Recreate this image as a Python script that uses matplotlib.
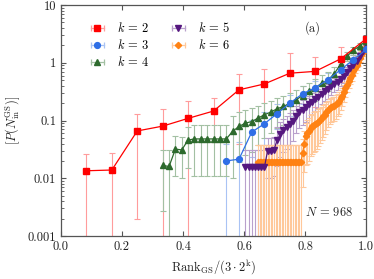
import matplotlib
matplotlib.use("Agg")
import matplotlib.pyplot as plt
from matplotlib.lines import Line2D
from matplotlib.legend_handler import HandlerLine2D

plt.rcParams['font.family'] = 'serif'
plt.rcParams['font.serif'] = ['cmr10', 'DejaVu Serif']
plt.rcParams['mathtext.fontset'] = 'cm'
plt.rcParams['axes.unicode_minus'] = False

# data: ranks start index, values and errors per k (x = rank / (3*2^k))
k_list = [2, 3, 4, 5, 6]
start_rank = {2: 1, 3: 13, 4: 16, 5: 58, 6: 124}

vals_k2 = [0.0135, 0.0139, 0.066, 0.080, 0.109, 0.146, 0.34, 0.43, 0.66, 0.71, 1.17, 2.6]
errs_k2 = [0.0125, 0.0131, 0.064, 0.08, 0.111, 0.104, 0.30, 0.35, 0.81, 0.54, 0.70, 0.35]

vals_k3 = [0.020, 0.0214, 0.063, 0.088, 0.132, 0.20, 0.29, 0.37, 0.51, 0.76, 1.13, 1.70]
errs_k3 = [0.020, 0.0214, 0.04, 0.05, 0.06, 0.08, 0.1, 0.12, 0.15, 0.2, 0.25, 0.3]

vals_k4 = [0.0167, 0.016, 0.032, 0.031, 0.046, 0.048, 0.048, 0.048, 0.048, 0.048, 0.048,
           0.065, 0.079, 0.09, 0.096, 0.11, 0.126, 0.14, 0.16, 0.175, 0.2, 0.23, 0.27,
           0.32, 0.365, 0.445, 0.5, 0.65, 0.95, 1.3, 1.65, 1.95, 2.4]
errs_k4 = [0.014, 0.0155, 0.021, 0.021, 0.031, 0.037, 0.037, 0.037, 0.037, 0.037, 0.037,
           0.055, 0.06, 0.065, 0.068, 0.072, 0.076, 0.08, 0.085, 0.09, 0.1, 0.11, 0.12,
           0.13, 0.15, 0.16, 0.18, 0.2, 0.22, 0.24, 0.26, 0.28, 0.3]

vals_k5 = [0.0155, 0.0155, 0.0155, 0.0155, 0.0155, 0.0155, 0.0155,
           0.030, 0.030, 0.031,
           0.046, 0.058, 0.068, 0.077, 0.087, 0.10, 0.12, 0.14, 0.155, 0.17, 0.19, 0.21,
           0.235, 0.26, 0.29, 0.32, 0.35, 0.39, 0.43, 0.47, 0.53, 0.6, 0.68, 0.8, 0.93,
           1.07, 1.3, 1.6, 2.1]
errs_k5 = [0.0155, 0.0155, 0.0155, 0.0155, 0.0155, 0.0155, 0.0155,
           0.02, 0.02, 0.02,
           0.03, 0.035, 0.04, 0.045, 0.05, 0.055, 0.06, 0.065, 0.07, 0.075, 0.08, 0.085,
           0.09, 0.095, 0.1, 0.105, 0.11, 0.115, 0.12, 0.13, 0.14, 0.15, 0.16, 0.18, 0.2,
           0.22, 0.25, 0.28, 0.3]

vals_k6 = [0.019] * 28 + [
    0.027, 0.04, 0.053, 0.06, 0.066, 0.074, 0.079, 0.083, 0.087, 0.09, 0.096, 0.103,
    0.11, 0.118, 0.126, 0.138, 0.15, 0.162, 0.17, 0.175, 0.18, 0.19, 0.205, 0.22,
    0.245, 0.27, 0.31, 0.36, 0.42, 0.48, 0.55, 0.62, 0.72, 0.82, 0.92, 1.04, 1.2,
    1.37, 1.55, 1.72, 1.9]
errs_k6 = [0.019] * 28 + [
    0.02, 0.027, 0.036, 0.042, 0.046, 0.05, 0.053, 0.055, 0.057, 0.058, 0.06, 0.062,
    0.064, 0.066, 0.068, 0.07, 0.072, 0.074, 0.076, 0.078, 0.08, 0.082, 0.085, 0.088,
    0.09, 0.095, 0.1, 0.105, 0.11, 0.115, 0.12, 0.13, 0.14, 0.15, 0.16, 0.17, 0.18,
    0.2, 0.22, 0.24, 0.26]

vals = {2: vals_k2, 3: vals_k3, 4: vals_k4, 5: vals_k5, 6: vals_k6}
errs = {2: errs_k2, 3: errs_k3, 4: errs_k4, 5: errs_k5, 6: errs_k6}

# estilo de cada serie
colores = {2: '#ff0000', 3: '#2f6fe6', 4: '#2d6a2d', 5: '#55177f', 6: '#ff8213'}
claros = {2: '#ff9c9c', 3: '#a9c3f4', 4: '#a3c0a3', 5: '#b9a0cc', 6: '#ffc89a'}
marcas = {2: 's', 3: 'o', 4: '^', 5: 'v', 6: 'D'}
tamanos = {2: 5.0, 3: 4.2, 4: 4.2, 5: 4.2, 6: 3.2}

fig = plt.figure(figsize=(3.74, 2.79), dpi=100)
ax = fig.add_axes([0.163, 0.154, 0.816, 0.828])

for k in k_list:
    n = 3 * 2 ** k
    x = [(start_rank[k] + i) / n for i in range(len(vals[k]))]
    ax.errorbar(x, vals[k], yerr=errs[k], fmt='none', ecolor=claros[k],
                elinewidth=0.8, capsize=2.5, capthick=0.8, zorder=1)

for j, k in enumerate(reversed(k_list)):
    n = 3 * 2 ** k
    x = [(start_rank[k] + i) / n for i in range(len(vals[k]))]
    ax.plot(x, vals[k], color=colores[k], lw=0.9, marker=marcas[k],
            ms=tamanos[k], mec=colores[k], zorder=3 + j)

ax.set_yscale('log')
ax.set_xlim(0, 1)
ax.set_ylim(0.001, 10)
ax.set_xticks([0.0, 0.2, 0.4, 0.6, 0.8, 1.0])
ax.set_xticklabels(['0.0', '0.2', '0.4', '0.6', '0.8', '1.0'])
ax.set_yticks([0.001, 0.01, 0.1, 1, 10])
ax.set_yticklabels(['0.001', '0.01', '0.1', '1', '10'])

gris = '#555555'
for s in ax.spines.values():
    s.set_color(gris)
    s.set_linewidth(0.9)
ax.tick_params(which='both', direction='in', top=True, right=True, color=gris,
               labelsize=9, labelcolor='#222222')
ax.tick_params(which='major', length=3.5)
ax.tick_params(which='minor', length=2)

ax.set_xlabel(r'Rank$_{\rm GS}/(3\cdot 2^{\rm k})$', fontsize=9, color='#222222')
ax.set_ylabel(r'$[P(N_{\rm in}^{\rm GS})]$', fontsize=9, color='#222222')

ax.text(0.825, 4.0, '(a)', fontsize=9, ha='center', va='center', color='#222222')
ax.text(0.877, 0.0026, r'$N\,=\,968$', fontsize=9, ha='center', va='center',
        color='#222222')

# leyenda con barras horizontales y topes
handles = []
hmap = {}
for k in k_list:
    tope = Line2D([], [], color=claros[k], lw=0.9, marker='|', ms=5, mew=0.9)
    punto = Line2D([], [], ls='none', marker=marcas[k], ms=tamanos[k], color=colores[k])
    hmap[tope] = HandlerLine2D(numpoints=2)
    handles.append((tope, punto))
labels = [r'$k\,=\,%d$' % k for k in k_list]
ax.legend(handles, labels, handler_map=hmap, loc='upper left', ncol=2,
          frameon=False, fontsize=9, bbox_to_anchor=(0.05, 0.98),
          handlelength=1.6, handletextpad=0.8, columnspacing=1.5, labelspacing=0.25)

fig.savefig('out.png', dpi=100)
